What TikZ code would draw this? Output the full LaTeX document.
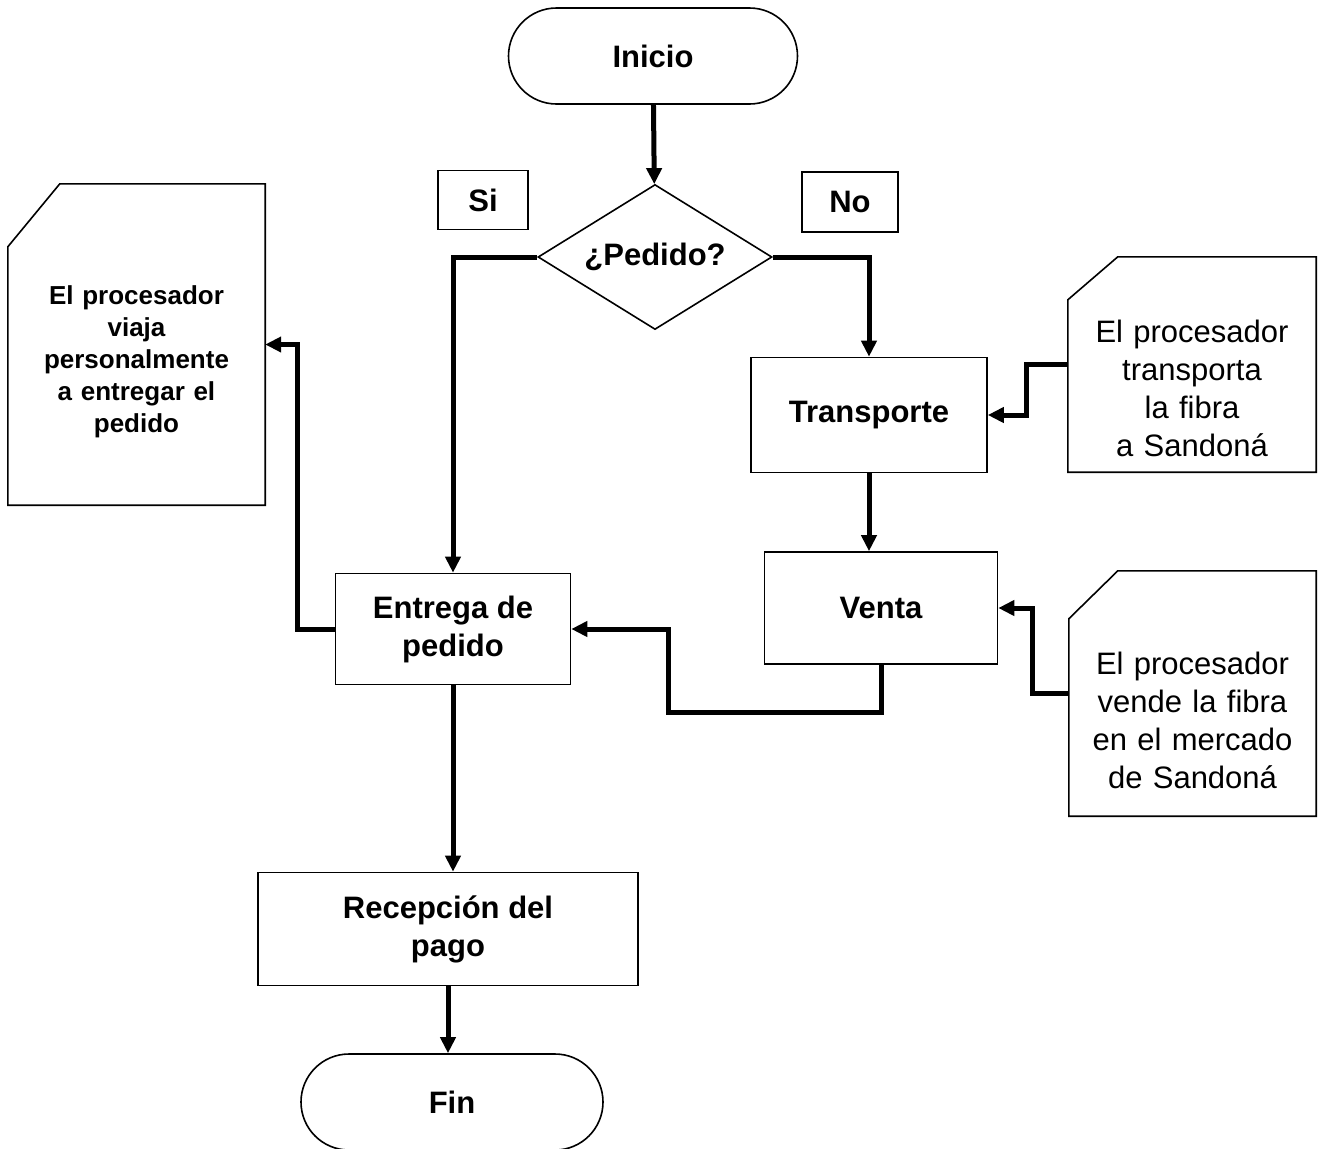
\documentclass[tikz,border=0pt]{standalone}
\usepackage{fontspec}
\setmainfont{Liberation Sans}
\usetikzlibrary{shapes.geometric,shapes.misc,arrows.meta}

\begin{document}
\begin{tikzpicture}[x=1pt,y=-1pt,
   >={Triangle[width=15pt,length=16pt]},
   box/.style={draw,line width=1.6pt,inner sep=0pt,align=center,
     font=\bfseries\fontsize{31}{38}\selectfont},
   terminal/.style={box,rounded rectangle,minimum height=96pt},
   process/.style={box,rectangle},
   decision/.style={box,diamond,aspect=1.6,minimum width=234pt,minimum height=145pt},
   note/.style={inner sep=0pt,align=center,font=\fontsize{31}{38}\selectfont},
   conn/.style={->,line width=5pt}]
   \useasboundingbox (0,0) rectangle (1326,1149);

   % main flow
   \node[terminal,minimum width=289pt] (inicio) at (653,56) {Inicio};
   \node[decision] (dec) at (655,257) {¿Pedido?};
   \node[process,minimum width=90pt,minimum height=59pt] (si) at (483,200) {Si};
   \node[process,minimum width=96pt,minimum height=60pt] (no) at (850,202) {No};
   \node[process,minimum width=236pt,minimum height=115pt] (transp) at (869,415) {Transporte};
   \node[process,minimum width=233pt,minimum height=112pt] (venta) at (881,608) {Venta};
   \node[process,minimum width=235pt,minimum height=111pt] (entrega) at (453,629) {Entrega de\\pedido};
   \node[process,minimum width=380pt,minimum height=113pt] (recep) at (448,929) {Recepción del\\pago};
   \node[terminal,minimum width=302pt] (fin) at (452,1102) {Fin};

   % notes
   \node[note,text width=248pt,minimum height=215pt,text height=70pt] (n1) at (1192,364.5)
     {El procesador\\transporta\\la fibra\\a Sandoná};
   \node[note,text width=247pt,minimum height=245pt,text height=76pt] (n2) at (1192.5,693.5)
     {El procesador\\vende la fibra\\en el mercado\\de Sandoná};
   \node[note,text width=257pt,minimum height=321pt,text height=54pt,
     font=\bfseries\fontsize{26}{32}\selectfont] (n3) at (136.5,344.5)
     {El procesador\\viaja\\personalmente\\a entregar el\\pedido};
   \foreach \n/\cx/\cy in {n1/50pt/43pt,n2/49pt/48pt,n3/52pt/63pt}
     \draw[line width=1.6pt] ([yshift=-\cy]\n.north west) -- ([xshift=\cx]\n.north west)
       -- (\n.north east) -- (\n.south east) -- (\n.south west) -- cycle;

   % connectors
   \draw[conn] (inicio) -- (dec);
   \draw[conn] (dec.west) -| (entrega.north);
   \draw[conn] (dec.east) -| (transp.north);
   \draw[conn] (n1.west) -- ++(-41,0) |- (transp.east);
   \draw[conn] (transp.south) -- (transp.south |- venta.north);
   \draw[conn] (n2.west) -- ++(-36,0) |- (venta.east);
   \draw[conn] (venta.south) -- ++(0,48) -| ([xshift=97pt]entrega.east) -- (entrega.east);
   \draw[conn] (entrega.west) -- ++(-37,0) |- (n3.east);
   \draw[conn] (entrega.south) -- (entrega.south |- recep.north);
   \draw[conn] (recep.south) -- (recep.south |- fin.north);
\end{tikzpicture}
\end{document}
